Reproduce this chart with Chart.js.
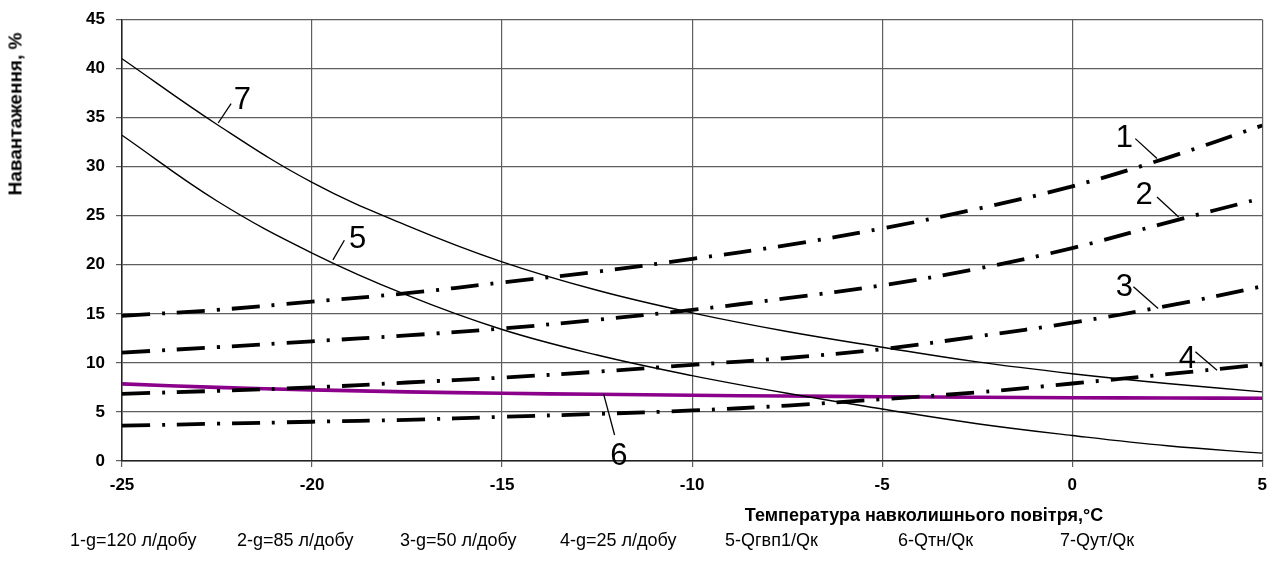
<!DOCTYPE html>
<html><head><meta charset="utf-8">
<script src="https://cdn.jsdelivr.net/npm/chart.js@4.4.1/dist/chart.umd.min.js"></script>
<style>
html,body{margin:0;padding:0;background:#fff;}
#wrap{position:relative;width:1277px;height:576px;overflow:hidden;}
canvas{position:absolute;left:0;top:0;}
.t{position:absolute;font-family:"Liberation Sans",Arial,sans-serif;color:#000;white-space:nowrap;line-height:1;}
#ytitle{font-weight:bold;font-size:19px;left:15px;top:114px;transform:translate(-50%,-50%) rotate(-90deg);}
#xtitle{font-weight:bold;font-size:18px;left:924px;top:515px;transform:translate(-50%,-50%);}
.lg{font-size:18px;top:540px;transform:translateY(-50%);}
</style></head><body>
<div id="wrap">
<canvas id="c" width="1277" height="576"></canvas>
<div class="t" id="ytitle">Навантаження, %</div>
<div class="t" id="xtitle">Температура навколишнього повітря,°С</div>
<div id="legend"></div>
</div>
<script>
// Data
const temps = [-25, -22.5, -20, -17.5, -15, -12.5, -10, -7.5, -5, -2.5, 0, 2.5, 5];
const g120 = [14.8, 15.4, 16.25, 17.1, 18.2, 19.3, 20.6, 22.0, 23.7, 25.7, 28.0, 30.9, 34.2];
const g85  = [11.05, 11.6, 12.2, 12.8, 13.5, 14.4, 15.4, 16.6, 17.9, 19.6, 21.7, 24.3, 26.8];
const g50  = [6.85, 7.15, 7.5, 8.0, 8.5, 9.1, 9.8, 10.5, 11.4, 12.7, 14.1, 15.8, 17.8];
const g25  = [3.6, 3.8, 4.0, 4.2, 4.5, 4.8, 5.15, 5.65, 6.3, 7.0, 7.9, 8.85, 9.85];
const qgvp = [33.2, 26.5, 21.2, 16.9, 13.4, 10.8, 8.7, 6.9, 5.3, 3.8, 2.6, 1.55, 0.8];
const qtn  = [7.86, 7.5, 7.25, 7.05, 6.9, 6.8, 6.7, 6.62, 6.55, 6.5, 6.45, 6.42, 6.4];
const qut  = [41.0, 34.3, 28.4, 24.0, 20.3, 17.4, 15.1, 13.2, 11.6, 10.1, 8.9, 7.9, 7.05];
const xTicks = [-25, -20, -15, -10, -5, 0, 5];
const yTicks = [0, 5, 10, 15, 20, 25, 30, 35, 40, 45];
const legendLabels = ["1-g=120 л/добу", "2-g=85 л/добу", "3-g=50 л/добу", "4-g=25 л/добу", "5-Qгвп1/Qк", "6-Qтн/Qк", "7-Qут/Qк"];
const legendLeft = [70, 237, 400, 560, 725, 898, 1060];
// curve markers: [label, leader x1,y1, x2,y2, text x,y] in data units
const markers = [
  ["7", -22.47, 34.45, -22.13, 36.43, -21.83, 36.7],
  ["5", -19.45, 20.5, -19.15, 22.5, -18.8, 22.6],
  ["6", -12.33, 6.85, -12.04, 2.65, -11.93, 0.5],
  ["1", 1.66, 32.86, 2.23, 30.83, 1.37, 32.84],
  ["2", 2.23, 26.91, 2.80, 24.88, 1.89, 27.04],
  ["3", 1.61, 17.75, 2.26, 15.55, 1.37, 17.67],
  ["4", 3.24, 11.13, 3.81, 9.25, 3.03, 10.39]
];

const pts = arr => arr.map((v, i) => ({x: temps[i], y: v}));
const dashDot = [28, 12, 3, 12];
const dashed = (label, data) => ({label, data: pts(data), borderColor: '#000', borderWidth: 3.8, borderDash: dashDot, pointRadius: 0, tension: 0.4, fill: false});
const solid = (label, data, color, w) => ({label, data: pts(data), borderColor: color, borderWidth: w, pointRadius: 0, tension: 0.4, fill: false});

const lg = document.getElementById('legend');
legendLabels.forEach((t, i) => {
  const d = document.createElement('div');
  d.className = 't lg'; d.textContent = t; d.style.left = legendLeft[i] + 'px';
  lg.appendChild(d);
});

const markerPlugin = {
  id: 'markers',
  afterDatasetsDraw(chart) {
    const {ctx, scales: {x, y}} = chart;
    ctx.save();
    ctx.strokeStyle = '#000'; ctx.lineWidth = 1.3; ctx.fillStyle = '#000';
    ctx.font = '31px "Liberation Sans", Arial, sans-serif';
    ctx.textAlign = 'center'; ctx.textBaseline = 'middle';
    markers.forEach(m => {
      ctx.beginPath();
      ctx.moveTo(x.getPixelForValue(m[1]), y.getPixelForValue(m[2]));
      ctx.lineTo(x.getPixelForValue(m[3]), y.getPixelForValue(m[4]));
      ctx.stroke();
      ctx.fillText(m[0], x.getPixelForValue(m[5]), y.getPixelForValue(m[6]));
    });
    ctx.restore();
  }
};

const tickFont = {family: '"Liberation Sans", Arial, sans-serif', size: 17, weight: 'bold', lineHeight: 1};
new Chart(document.getElementById('c'), {
  type: 'line',
  data: {
    datasets: [
      dashed('1-g=120 л/добу', g120),
      dashed('2-g=85 л/добу', g85),
      dashed('3-g=50 л/добу', g50),
      dashed('4-g=25 л/добу', g25),
      solid('5-Qгвп1/Qк', qgvp, '#000', 1.4),
      solid('6-Qтн/Qк', qtn, '#8b008b', 3.6),
      solid('7-Qут/Qк', qut, '#000', 1.4)
    ]
  },
  options: {
    responsive: false, animation: false, devicePixelRatio: 1,
    layout: {padding: {left: 0, right: 14, top: 19, bottom: 0}},
    plugins: {legend: {display: false}, tooltip: {enabled: false}},
    scales: {
      x: {
        type: 'linear', min: -25, max: 5,
        afterBuildTicks: s => { s.ticks = xTicks.map(v => ({value: v})); },
        afterFit: s => { s.height = 115; },
        ticks: {color: '#000', font: tickFont, padding: 10, maxRotation: 0},
        grid: {color: '#5e5e5e', lineWidth: 1.2, tickLength: 6, drawTicks: true},
        border: {color: '#222', width: 1.5}
      },
      y: {
        min: 0, max: 45,
        afterBuildTicks: s => { s.ticks = yTicks.map(v => ({value: v})); },
        afterFit: s => { s.width = 122; },
        ticks: {color: '#000', font: tickFont, padding: 11},
        grid: {color: '#5e5e5e', lineWidth: 1.2, tickLength: 6, drawTicks: true},
        border: {color: '#222', width: 1.5}
      }
    }
  },
  plugins: [markerPlugin]
});
</script>
</body></html>
